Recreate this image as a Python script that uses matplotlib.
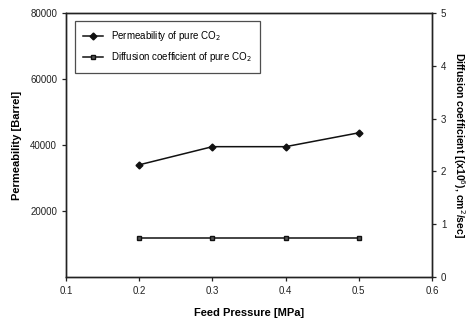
import matplotlib
matplotlib.use("Agg")
import matplotlib.pyplot as plt

plt.rcParams['font.family'] = ['Liberation Sans', 'DejaVu Sans']

pressure = [0.2, 0.3, 0.4, 0.5]
permeability = [34000, 39500, 39500, 43700]
diffusion = [0.73, 0.73, 0.73, 0.73]

x_ticks = [0.1, 0.2, 0.3, 0.4, 0.5, 0.6]
left_ticks = [20000, 40000, 60000, 80000]
right_ticks = [0, 1, 2, 3, 4, 5]

fig = plt.figure(figsize=(4.72, 3.27), dpi=100)
ax = fig.add_axes([0.14, 0.153, 0.775, 0.807])
ax2 = ax.twinx()

l1, = ax.plot(pressure, permeability, color='#111111', lw=1.1, marker='D', ms=3.5,
              label='Permeability of pure CO$_2$')
l2, = ax2.plot(pressure, diffusion, color='#111111', lw=1.1, marker='s', ms=3.5,
               mfc='#555555', mec='#111111',
               label='Diffusion coefficient of pure CO$_2$')

ax.set_xlim(0.1, 0.6)
ax.set_ylim(0, 80000)
ax2.set_ylim(0, 5)
ax.set_xticks(x_ticks)
ax.set_xticklabels([str(v) for v in x_ticks])
ax.set_yticks(left_ticks)
ax2.set_yticks(right_ticks)

for a in (ax, ax2):
    a.tick_params(labelsize=7, length=3, width=0.9, color='#222222',
                  labelcolor='#222222')
    for s in a.spines.values():
        s.set_linewidth(1.0)
        s.set_color('#222222')

ax.set_xlabel('Feed Pressure [MPa]', fontsize=8, fontweight='bold', labelpad=9)
ax.set_ylabel('Permeability [Barrel]', fontsize=8, fontweight='bold', labelpad=6)
ax2.set_ylabel('Diffusion coefficient [(x10$^6$), cm$^2$/sec]', fontsize=7.5,
               fontweight='bold', rotation=-90, labelpad=15)

leg = ax.legend(handles=[l1, l2], loc='upper left', fontsize=7, frameon=True,
                fancybox=False, edgecolor='#222222', borderpad=0.9,
                handlelength=2, labelspacing=0.7, bbox_to_anchor=(0.01, 0.99))
leg.get_frame().set_linewidth(0.9)

fig.savefig('out.png', dpi=100)
